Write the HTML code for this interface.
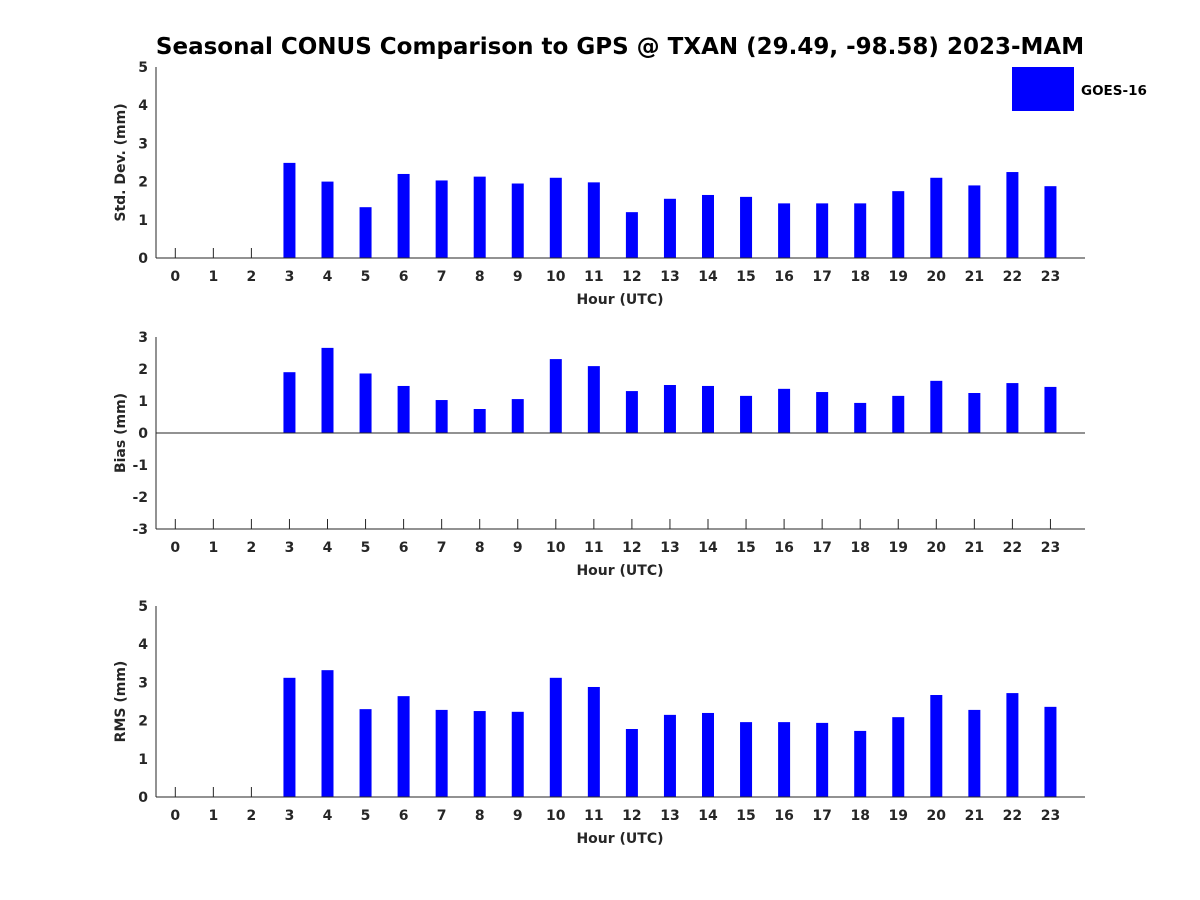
<!DOCTYPE html>
<html><head><meta charset="utf-8"><style>
body{margin:0;background:#fff;}
svg{display:block;font-family:"DejaVu Sans","Liberation Sans",sans-serif;}
</style></head><body>
<svg id="chart" width="1200" height="900" viewBox="0 0 1200 900">
<text x="620" y="54" text-anchor="middle" font-size="23" font-weight="bold" fill="#000">Seasonal CONUS Comparison to GPS @ TXAN (29.49, -98.58) 2023-MAM</text>
<rect x="1012" y="67" width="62" height="44" fill="#0000ff"/>
<text x="1081" y="95" font-size="13.5" font-weight="bold" fill="#000">GOES-16</text>
</svg>
<script>
const hours = [0,1,2,3,4,5,6,7,8,9,10,11,12,13,14,15,16,17,18,19,20,21,22,23];
const stdDev = [null,null,null,2.49,2.0,1.33,2.2,2.03,2.13,1.95,2.1,1.98,1.2,1.55,1.65,1.6,1.43,1.43,1.43,1.75,2.1,1.9,2.25,1.88];
const bias = [null,null,null,1.9,2.66,1.86,1.47,1.03,0.75,1.06,2.31,2.09,1.31,1.5,1.47,1.16,1.38,1.28,0.94,1.16,1.63,1.25,1.56,1.44];
const rms = [null,null,null,3.12,3.32,2.3,2.64,2.28,2.25,2.23,3.12,2.88,1.78,2.15,2.2,1.96,1.96,1.94,1.73,2.09,2.67,2.28,2.72,2.36];
const ticks1 = [0,1,2,3,4,5];
const ticks2 = [-3,-2,-1,0,1,2,3];
const ticks3 = [0,1,2,3,4,5];

const svg = document.getElementById('chart');
const NS = 'http://www.w3.org/2000/svg';
function mk(tag, attrs){const e=document.createElementNS(NS,tag);for(const k in attrs)e.setAttribute(k,attrs[k]);svg.appendChild(e);return e;}
const xL=156, xR=1085;
function xs(h){return 175.3 + h*38.05;}

function panel(name, top, bot, ymin, ymax, ticks, vals, ylabel){
  const ys = v => bot - (v - ymin)/(ymax - ymin)*(bot - top);
  const z = ys(Math.max(0, ymin));
  hours.forEach((h,i)=>{
    const t = mk('line',{x1:xs(h),x2:xs(h),y1:bot,y2:bot-10,stroke:'#262626','stroke-width':1});
    
    
    const l = mk('text',{x:xs(h),y:bot+23,'text-anchor':'middle','font-size':14,'font-weight':'bold',fill:'#262626'});
    l.textContent = h;
    
    
  });
  vals.forEach((v,i)=>{
    if(v===null) return;
    const y1 = ys(v);
    const b = mk('rect',{x:xs(hours[i])-6,y:Math.min(y1,z),width:12,height:Math.abs(z-y1),fill:'#0000ff'});
    
    
  });
  ticks.forEach(t=>{
    const l = mk('text',{x:xL-8,y:ys(t)+5,'text-anchor':'end','font-size':14,'font-weight':'bold',fill:'#262626'});
    l.textContent = t;
    
    
  });
  const ax = mk('line',{x1:xL,x2:xL,y1:top,y2:bot,stroke:'#262626','stroke-width':1});
  
  
  const bx = mk('line',{x1:xL,x2:xR,y1:bot,y2:bot,stroke:'#262626','stroke-width':1});
  
  
  if(ymin<0){
    const zl = mk('line',{x1:xL,x2:xR,y1:z,y2:z,stroke:'#262626','stroke-width':1});
    
    
  }
  const xt = mk('text',{x:620,y:bot+46,'text-anchor':'middle','font-size':14,'font-weight':'bold',fill:'#262626'});
  xt.textContent = 'Hour (UTC)';
  
  
  const cy = (top+bot)/2;
  const yt = mk('text',{x:0,y:0,transform:'translate(125,'+cy+') rotate(-90)','text-anchor':'middle','font-size':14,'font-weight':'bold',fill:'#262626'});
  yt.textContent = ylabel;
  
  
}
panel('stddev', 67, 258, 0, 5, ticks1, stdDev, 'Std. Dev. (mm)');
panel('bias', 337, 529, -3, 3, ticks2, bias, 'Bias (mm)');
panel('rms', 606, 797, 0, 5, ticks3, rms, 'RMS (mm)');
</script>
</body></html>
